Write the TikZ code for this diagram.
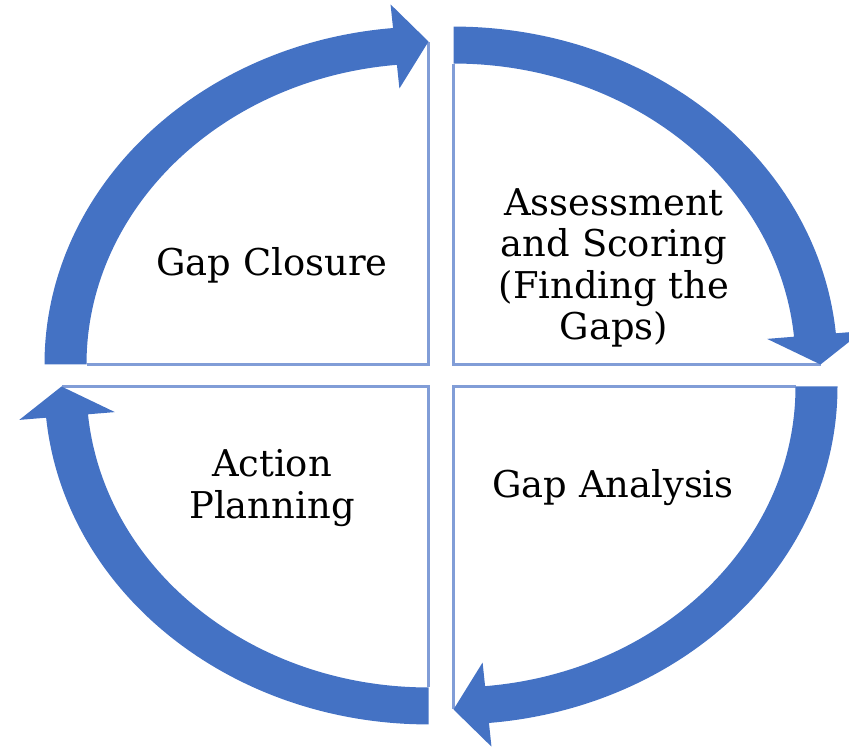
\documentclass[tikz,border=0pt]{standalone}
\usepackage{fontspec}
\setmainfont{DejaVu Serif}
\definecolor{cycblue}{HTML}{4472C4}
\definecolor{edgeblue}{HTML}{819DD7}
\tikzset{
    steplabel/.style={align=center,font=\fontsize{21}{23.5}\selectfont,text=black},
    quadedge/.style={draw=edgeblue,line width=1.4pt}
}

\begin{document}
\begin{tikzpicture}[x=0.02cm,y=0.02cm]
    \useasboundingbox (0,0) rectangle (849,-749);

    \begin{scope}[shift={(441,-375.5)},yscale=0.88]
        \foreach \k in {0,1,2,3} {
            \begin{scope}[rotate=-90*\k,shift={(-12.5,12.5)}]
                \draw[quadedge] (-342,0) -- (0,0) -- (90:367);
                \fill[cycblue] (180:384) arc[start angle=180,end angle=95.3,radius=384]
                    -- (95.3:411) -- (90:367) -- (95.3:315) -- (95.3:342)
                    arc[start angle=95.3,end angle=180,radius=342] -- cycle;
            \end{scope}
        }
    \end{scope}

    \node[steplabel] (closure) at (272,-265) {Gap Closure};
    \node[steplabel] (assess) at (614,-268) {Assessment\\and Scoring\\(Finding the\\Gaps)};
    \node[steplabel] (action) at (272,-488) {Action\\Planning};
    \node[steplabel] (analysis) at (613,-488) {Gap Analysis};
\end{tikzpicture}
\end{document}
